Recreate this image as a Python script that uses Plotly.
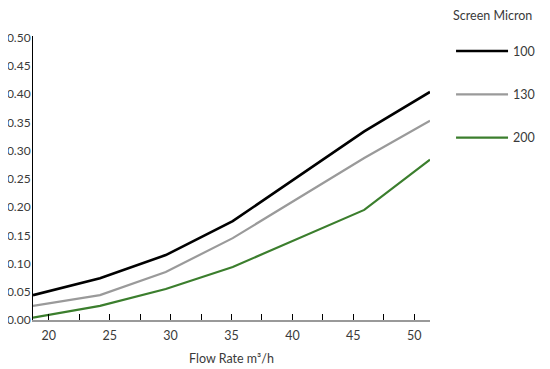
import plotly.graph_objects as go

flow = [18.7, 24.2, 29.6, 35.1, 45.9, 51.3]
s100 = [0.044, 0.074, 0.115, 0.175, 0.334, 0.404]
s130 = [0.025, 0.044, 0.085, 0.145, 0.287, 0.353]
s200 = [0.004, 0.025, 0.055, 0.094, 0.195, 0.284]
names = ["100", "130", "200"]
colors = ["#000000", "#9a9a9a", "#3b7e2d"]
widths = [2.6, 2.2, 2.2]

fig = go.Figure()
for i, (nm, ys) in enumerate(zip(names, [s100, s130, s200])):
    fig.add_trace(go.Scatter(x=flow, y=ys, mode="lines", name=nm,
                             legendgroup=nm,
                             line=dict(color=colors[i], width=widths[i])))

font = "Lato, Open Sans, sans-serif"
txt = "#3a3a3a"
# page body has an 8px default margin, so the figure is sized/positioned to compensate
fig.update_layout(
    width=542, height=361,
    margin=dict(l=25, r=120, t=28, b=49, autoexpand=False),
    plot_bgcolor="white", paper_bgcolor="white",
    font=dict(family=font, size=12.5, color=txt),
    showlegend=True,
    legend=dict(x=1.053, y=1.113, xanchor="left", yanchor="top",
                title=dict(text="Screen Micron<br> ", side="top",
                           font=dict(size=12.5, color=txt)),
                itemwidth=52,
                tracegroupgap=24, font=dict(size=12.5, color=txt),
                bgcolor="rgba(0,0,0,0)"),
    xaxis=dict(range=[18.7, 51.3], tickmode="linear", tick0=20, dtick=5,
               showgrid=False, zeroline=False, showline=True, automargin=False,
               linecolor="#999999", linewidth=1.5,
               ticks="inside", ticklen=6, tickcolor="#000000", tickwidth=1,
               minor=dict(dtick=2.5, tick0=20, ticks="inside", ticklen=6,
                          tickcolor="#000000", tickwidth=1, showgrid=False),
               tickfont=dict(size=12.5, color=txt), ticklabelstandoff=3,
               title=dict(text="Flow Rate m³/h", font=dict(size=12.5, color=txt), standoff=12)),
    yaxis=dict(range=[0, 0.503], tickmode="linear", tick0=0, dtick=0.05,
               tickformat=".2f", showgrid=False, zeroline=False, automargin=False,
               showline=True, linecolor="#000000", linewidth=1,
               ticks="", tickfont=dict(size=12, color=txt), ticklabelstandoff=-1),
)

fig.write_html("out.html")
